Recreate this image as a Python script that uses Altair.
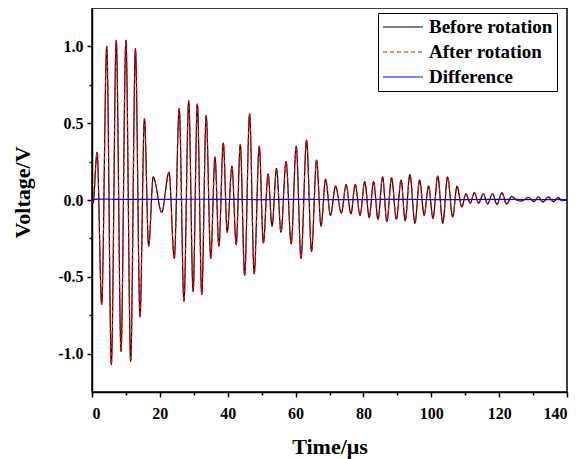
import altair as alt
import pandas as pd

# ---- data (extrema of the waveform, µs / V) ----
time_us = [0, 0.3, 1.5, 2.85, 4.35, 5.7, 7.15, 8.55, 10.0, 11.4, 12.8, 14.15, 15.45, 16.7,
           18.05, 20.55, 22.7, 24.25, 25.7, 27.1, 28.5, 29.8, 31.05, 32.35, 33.65, 35.0,
           36.25, 37.4, 38.7, 39.85, 41.25, 42.5, 43.7, 45.0, 46.45, 47.8, 49.3, 50.5,
           51.9, 53.05, 54.4, 55.7, 57.2, 58.7, 60.2, 61.6, 63.25, 64.7, 66.2, 67.5,
           68.85, 70.3, 71.8, 73.5, 74.9, 76.3, 77.6, 79.0, 80.4, 81.7, 83.0, 84.3,
           85.65, 86.9, 88.3, 89.7, 91.1, 92.3, 93.7, 95.2, 96.55, 97.9, 99.2, 100.5,
           101.9, 103.4, 104.8, 106.3, 107.6, 109.0, 110.2, 111.5, 112.7, 113.95,
           115.35, 116.6, 118.05, 119.35, 120.85, 122.2, 123.7, 125.1, 126.6, 128.7,
           130.2, 131.6, 132.9, 134.5, 136.0, 137.4, 138.5, 140.0]
before_v = [0, -0.02, 0.31, -0.68, 1.0, -1.07, 1.04, -0.985, 1.04, -1.05, 0.985, -0.76, 0.53, -0.30,
            0.15, -0.08, 0.18, -0.38, 0.595, -0.66, 0.645, -0.595, 0.625, -0.617, 0.55, -0.38,
            0.28, -0.30, 0.37, -0.21, 0.22, -0.29, 0.36, -0.49, 0.56, -0.48, 0.35, -0.28,
            0.17, -0.17, 0.205, -0.21, 0.25, -0.285, 0.35, -0.38, 0.39, -0.335, 0.26, -0.17,
            0.135, -0.10, 0.09, -0.085, 0.10, -0.09, 0.10, -0.10, 0.12, -0.115, 0.12, -0.125,
            0.15, -0.14, 0.145, -0.125, 0.13, -0.135, 0.165, -0.15, 0.13, -0.10, 0.09, -0.12,
            0.155, -0.15, 0.15, -0.11, 0.09, -0.045, 0.04, -0.02, 0.048, -0.02,
            0.04, -0.025, 0.04, -0.028, 0.047, -0.027, 0.023, 0.0, -0.006, 0.016,
            -0.01, 0.02, -0.013, 0.02, -0.01, 0.016, -0.004, 0.0]
after_v = before_v[:]  # curve after rotation overlaps the one before rotation

diff_time_us = [0, 2, 5, 10, 20, 30, 40, 50, 60, 70, 80, 90, 100, 110, 120, 130, 140]
diff_v = [0.0, 0.006, 0.005, 0.004, 0.004, 0.005, 0.004, 0.003, 0.004, 0.003, 0.003,
          0.004, 0.003, 0.003, 0.004, 0.003, 0.003]

series_names = ["Before rotation", "After rotation", "Difference"]
series_colors = ["black", "red", "blue"]
series_dash = [[1, 0], [4, 3], [1, 0]]

x_major = [0, 20, 40, 60, 80, 100, 120, 140]
x_minor = [10, 30, 50, 70, 90, 110, 130]
y_major = [-1.0, -0.5, 0.0, 0.5, 1.0]
y_minor = [-0.75, -0.25, 0.25, 0.75]

df = pd.concat([
    pd.DataFrame({"t": time_us, "v": before_v, "series": series_names[0]}),
    pd.DataFrame({"t": time_us, "v": after_v, "series": series_names[1]}),
    pd.DataFrame({"t": diff_time_us, "v": diff_v, "series": series_names[2]}),
], ignore_index=True)

FONT = "Liberation Serif"
xs = alt.Scale(domain=[0, 140], nice=False, zero=False)
ys = alt.Scale(domain=[-1.25, 1.25], nice=False, zero=False)

leg = alt.Legend(title=None, orient="none", legendX=286, legendY=5,
                 symbolType="stroke", symbolSize=1600, symbolStrokeWidth=1.2,
                 labelFont=FONT, labelFontWeight="bold", labelFontSize=19, labelColor="black",
                 labelOffset=5, rowPadding=5, clipHeight=20, padding=4,
                 strokeColor="black")
color = alt.Color("series:N", scale=alt.Scale(domain=series_names, range=series_colors), legend=leg)
dash = alt.StrokeDash("series:N", scale=alt.Scale(domain=series_names, range=series_dash), legend=leg)

lbl_expr = "replace(format(datum.value, '.1f'), '\u2212', '-')"

base = alt.Chart(df)

before_layer = base.transform_filter(alt.datum.series == series_names[0]).mark_line(
    interpolate="monotone", strokeWidth=1.2
).encode(
    x=alt.X("t:Q", scale=xs, axis=alt.Axis(orient="bottom", values=x_major, format="d",
            title="Time/\u03bcs", tickSize=5, labelPadding=8, titleY=61,
            titleBaseline="alphabetic")),
    y=alt.Y("v:Q", scale=ys, axis=alt.Axis(orient="left", values=y_major, labelExpr=lbl_expr,
            title="Voltage/V", tickSize=5, labelPadding=4, titleX=-70, titleY=184,
            titleAngle=-90, titleAlign="center", titleBaseline="middle")),
    color=color, strokeDash=dash,
)

after_layer = base.transform_filter(alt.datum.series == series_names[1]).mark_line(
    interpolate="monotone", strokeWidth=1.2
).encode(
    x=alt.X("t:Q", scale=xs, axis=alt.Axis(orient="bottom", values=x_minor, labels=False,
            domain=False, tickSize=3, title=None)),
    y=alt.Y("v:Q", scale=ys, axis=alt.Axis(orient="left", values=y_minor, labels=False,
            domain=False, tickSize=3, title=None)),
    color=color, strokeDash=dash,
)

diff_layer = base.transform_filter(alt.datum.series == series_names[2]).mark_line(
    interpolate="monotone", strokeWidth=1.2
).encode(
    x=alt.X("t:Q", scale=xs, axis=None),
    y=alt.Y("v:Q", scale=ys, axis=None),
    color=color, strokeDash=dash,
)

chart = alt.layer(before_layer, after_layer, diff_layer).resolve_axis(
    x="independent", y="independent"
).properties(
    width=475, height=384,
    autosize=alt.AutoSizeParams(type="none"),
    padding={"left": 84, "top": 0, "right": 5, "bottom": 67},
).configure_axis(
    grid=False, domainColor="black", domainWidth=1.5, tickColor="black", tickWidth=1.5,
    labelColor="black", titleColor="black", labelFont=FONT, titleFont=FONT,
    labelFontWeight="bold", titleFontWeight="bold", labelFontSize=16, titleFontSize=22,
).configure_view(stroke="black", strokeWidth=1.5)

chart.save("out.html", embed_options={"renderer": "svg", "actions": False})
